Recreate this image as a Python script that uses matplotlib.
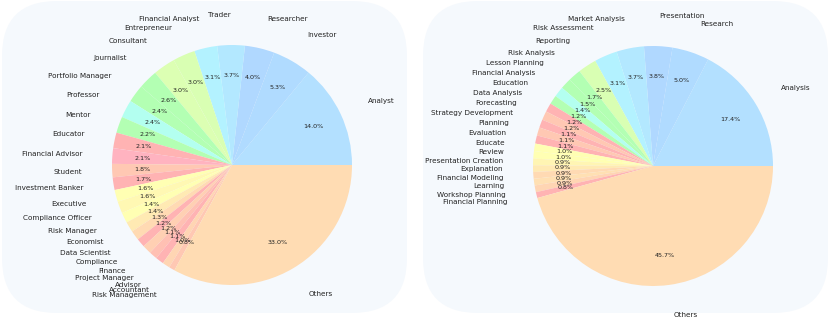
import matplotlib.pyplot as plt
from matplotlib.patches import FancyBboxPatch

# left pie: roles
roles = ['Analyst', 'Investor', 'Researcher', 'Trader', 'Financial Analyst',
         'Entrepreneur', 'Consultant', 'Journalist', 'Portfolio Manager',
         'Professor', 'Mentor', 'Educator', 'Financial Advisor', 'Student',
         'Investment Banker', 'Executive', 'Compliance Officer', 'Risk Manager',
         'Economist', 'Data Scientist', 'Compliance', 'Finance',
         'Project Manager', 'Advisor', 'Accountant', 'Risk Management', 'Others']
role_pct = [14.0, 5.3, 4.0, 3.7, 3.1, 3.0, 3.0, 2.6, 2.4, 2.4, 2.2, 2.1, 2.1,
            1.8, 1.7, 1.6, 1.6, 1.4, 1.4, 1.3, 1.2, 1.2, 1.1, 1.1, 1.0, 0.8,
            33.0]

# right pie: tasks
tasks = ['Analysis', 'Research', 'Presentation', 'Market Analysis',
         'Risk Assessment', 'Reporting', 'Risk Analysis', 'Lesson Planning',
         'Financial Analysis', 'Education', 'Data Analysis', 'Forecasting',
         'Strategy Development', 'Planning', 'Evaluation', 'Educate', 'Review',
         'Presentation Creation', 'Explanation', 'Financial Modeling',
         'Learning', 'Workshop Planning', 'Financial Planning', 'Others']
task_pct = [17.4, 5.0, 3.8, 3.7, 3.1, 2.5, 1.7, 1.5, 1.4, 1.2, 1.2, 1.2, 1.1,
            1.1, 1.1, 1.0, 1.0, 0.9, 0.9, 0.9, 0.9, 0.9, 0.8, 45.7]

role_colors = ['#b3e0ff', '#b0dbff', '#b0d8ff', '#b3e8ff', '#b3f2ff',
               '#d9ffb3', '#dcffb3', '#b3ffb3', '#b3ffb3', '#b3fff0',
               '#b3ffb3', '#ffb3b3', '#ffb3c0', '#ffc8b3', '#ffb3b3',
               '#ffffb3', '#fff8b3', '#ffffb3', '#ffeab3', '#ffdab3',
               '#ffb3b3', '#ffd0b3', '#ffc0b3', '#ffb3b3', '#ffd5b3',
               '#ffc8b3', '#ffdcb3']
task_colors = ['#b3e0ff', '#b0dbff', '#b0d8ff', '#b3e8ff', '#b3f2ff',
               '#d9ffb3', '#b3ffb3', '#b3ffb3', '#b3fff0', '#b3ffb3',
               '#ffb3b3', '#ffc8b3', '#ffb3b3', '#ffc8b3', '#ffb3b3',
               '#ffffb3', '#ffffb3', '#fff5b3', '#ffeab3', '#ffdab3',
               '#ffe0b3', '#ffd5b3', '#ffb3b3', '#ffdcb3']

fig = plt.figure(figsize=(8.3, 3.22), dpi=100)

# rounded panels behind each pie
for x0 in (0.02, 4.23):
    box = FancyBboxPatch((x0, 0.09), 4.05, 3.12,
                         boxstyle='round,pad=0,rounding_size=0.55',
                         transform=fig.dpi_scale_trans,
                         facecolor='#f5f9fd', edgecolor='none', zorder=0)
    fig.add_artist(box)

ax1 = fig.add_axes([82 / 830, 7 / 322, 300 / 830, 300 / 322])
ax2 = fig.add_axes([503 / 830, 6 / 322, 300 / 830, 300 / 322])

for ax, labels, vals, cols in [(ax1, roles, role_pct, role_colors),
                               (ax2, tasks, task_pct, task_colors)]:
    wedges, texts, autotexts = ax.pie(vals, labels=labels, colors=cols,
                                      autopct='%1.1f%%', startangle=0,
                                      labeldistance=1.25, pctdistance=0.75,
                                      wedgeprops={'linewidth': 0},
                                      textprops={'fontsize': 5.2, 'color': '#222222'})
    for t in autotexts:
        t.set_fontsize(4.6)
    ax.set_aspect('equal')
    ax.patch.set_visible(False)

fig.savefig('out.png', dpi=100)
